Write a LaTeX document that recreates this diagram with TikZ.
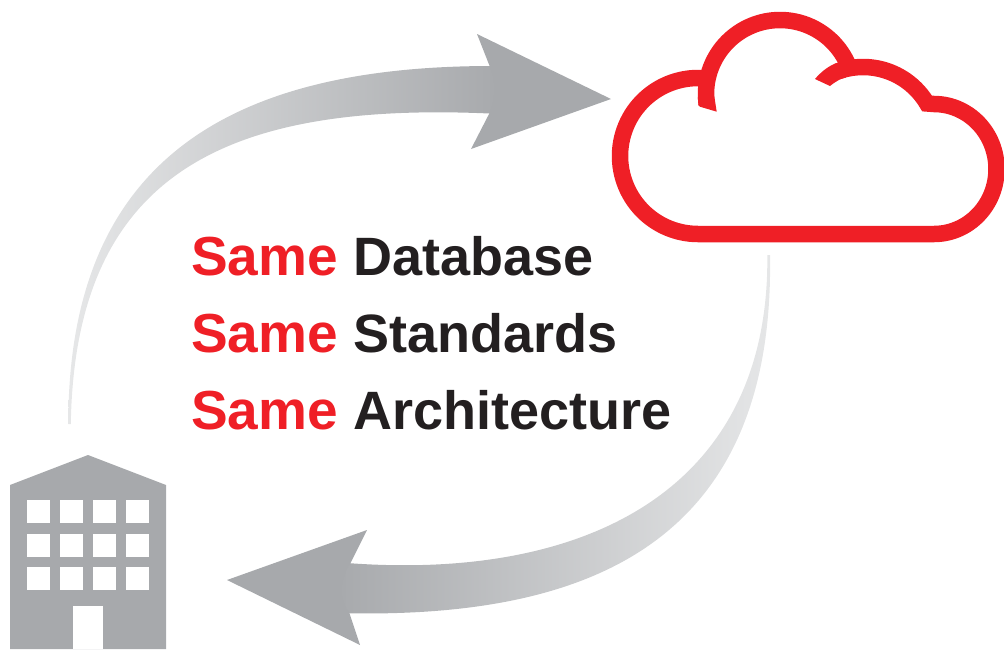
\documentclass[tikz,border=0pt]{standalone}
\usepackage{fontspec}
\setmainfont{Liberation Sans}
\definecolor{brandred}{HTML}{EF1F26}
\definecolor{brandgrey}{HTML}{A7A9AC}
\definecolor{lightgrey}{HTML}{E6E7E8}
\definecolor{inkblack}{HTML}{231F20}
\tikzset{
  cloudline/.style={draw=brandred,line width=16.5pt,line cap=butt,line join=miter,fill=none},
  cloudcut/.style={fill=brandred,draw=none},
  greyshape/.style={fill=brandgrey,draw=none},
  windowpane/.style={fill=white,draw=none},
  sameline/.style={anchor=base west,inner sep=0pt,outer sep=0pt,text=inkblack,font=\fontsize{54}{60}\selectfont\bfseries},
}
\newcommand{\samered}{\textcolor{brandred}{\fontsize{55}{60}\selectfont Same}\hspace{0.5pt}}
\begin{document}
\begin{tikzpicture}[x=1pt,y=-1pt]
\useasboundingbox (0,0) rectangle (1004,649);
% upward arrow
\shade[left color=lightgrey,right color=brandgrey,draw=none]
  (68.3,424) .. controls (68,160) and (230,66) .. (492,66)
  -- (500,66) -- (500,114)
  .. controls (230,100) and (75,170) .. (70.8,424)
  -- cycle;
\fill[greyshape] (477,34) -- (611,99) -- (471,149) -- (488,116)
  .. controls (495,104) and (497,82) .. (490,67) -- cycle;
% downward arrow
\shade[left color=brandgrey,right color=lightgrey,draw=none]
  (335,562) .. controls (578,584) and (770,495) .. (767.3,255)
  -- (770,255)
  .. controls (775,550) and (580,620) .. (335,613)
  -- cycle;
\fill[greyshape] (227,580) -- (367,530) -- (350,564)
  .. controls (340,578) and (338,600) .. (349,612) -- (360,645) -- cycle;
% cloud
\draw[cloudline] plot[domain=172:343,samples=60] ({780+74*cos(\x)},{94+74*sin(\x)});
\fill[cloudcut] (714.3,96.3) -- (697.8,96.9) -- (698.5,105.4) -- (700,106.7) -- (716.7,111.7) -- cycle;
\draw[cloudline] plot[domain=250:329.3,samples=40] ({863+74.5*cos(\x)},{141.5+74.5*sin(\x)})
  -- plot[domain=270:450,samples=60] ({934+62.5*cos(\x)},{169+65*sin(\x)})
  -- plot[domain=90:270,samples=60] ({698+78*cos(\x)},{156+78*sin(\x)})
  -- (706,78);
\fill[cloudcut] (841.6,61.6) -- (834.7,63.7) .. controls (827,67) and (820,73) .. (815,79)
  -- (830,86) .. controls (833,83.5) and (837,81) .. (840.3,79.2) -- (845.9,77.5) -- cycle;
% building
\fill[greyshape] (10,485) -- (88,455) -- (166,485) -- (166,649) -- (10,649) -- cycle;
\foreach \wx in {27,60,93,126}{
  \foreach \wy in {500,533.5,567}{
    \fill[windowpane] (\wx,\wy) rectangle ++(23,23.3);
  }
}
\fill[windowpane] (73,606) rectangle (103,649);
% text
\node[sameline] (line1) at (191,275) {\samered{} Database};
\node[sameline] (line2) at (191,352) {\samered{} Standards};
\node[sameline] (line3) at (191,429) {\samered{} Architecture};
\end{tikzpicture}
\end{document}
